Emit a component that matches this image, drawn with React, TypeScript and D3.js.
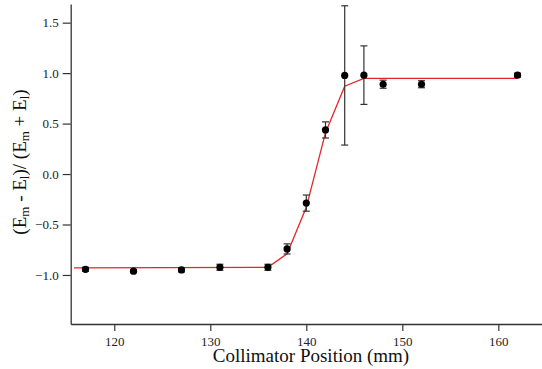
import React, { useEffect, useRef } from "react";
import * as d3 from "d3";

// collimator scan: measured asymmetry with error bars
const positions = [117, 122, 127, 131, 136, 138, 140, 142, 144, 146, 148, 152, 162];
const asymmetry = [-0.944, -0.963, -0.95, -0.924, -0.924, -0.742, -0.288, 0.437, 0.977, 0.98, 0.89, 0.89, 0.98];
const errors = [0.02, 0.015, 0.02, 0.03, 0.03, 0.05, 0.08, 0.08, 0.69, 0.29, 0.04, 0.035, 0.02];

// fitted step curve (red)
const fitX = [115.8, 136, 138, 140, 142, 144, 146, 162];
const fitY = [-0.93, -0.925, -0.79, -0.33, 0.41, 0.87, 0.948, 0.948];

const xTicks = [120, 130, 140, 150, 160];
const yTicks = [-1.0, -0.5, 0.0, 0.5, 1.0, 1.5];

const W = 542;
const H = 369;
const FONT = "Liberation Serif, Times New Roman, serif";

const App = () => {
  const svgRef = useRef(null);

  useEffect(() => {
    const svg = d3.select(svgRef.current);
    svg.selectAll("*").remove();

    const x = d3.scaleLinear().domain([115.46, 164.55]).range([70.7, 542]);
    const y = d3.scaleLinear().domain([-1.486, 1.685]).range([324, 4]);

    const axisColor = "#333";

    // fit line
    const line = d3
      .line()
      .x((d) => x(d[0]))
      .y((d) => y(d[1]));
    svg
      .append("path")
      .datum(fitX.map((v, i) => [v, fitY[i]]))
      .attr("d", line)
      .attr("fill", "none")
      .attr("stroke", "#e3262b")
      .attr("stroke-width", 1.3);

    // error bars
    const pts = positions.map((p, i) => ({ x: p, y: asymmetry[i], e: errors[i] }));
    const eb = svg.append("g").attr("stroke", "#333").attr("stroke-width", 1.2);
    pts.forEach((d) => {
      const cx = x(d.x);
      const y0 = y(d.y - d.e);
      const y1 = y(d.y + d.e);
      eb.append("line").attr("x1", cx).attr("x2", cx).attr("y1", y0).attr("y2", y1);
      eb.append("line").attr("x1", cx - 3.5).attr("x2", cx + 3.5).attr("y1", y0).attr("y2", y0);
      eb.append("line").attr("x1", cx - 3.5).attr("x2", cx + 3.5).attr("y1", y1).attr("y2", y1);
    });

    svg
      .append("g")
      .selectAll("circle")
      .data(pts)
      .enter()
      .append("circle")
      .attr("cx", (d) => x(d.x))
      .attr("cy", (d) => y(d.y))
      .attr("r", 3.6)
      .attr("fill", "#000");

    // x axis
    const xAxis = svg
      .append("g")
      .attr("transform", "translate(0,324)")
      .call(d3.axisBottom(x).tickValues(xTicks).tickSize(7).tickSizeOuter(0).tickPadding(6).tickFormat(d3.format("d")))
      .attr("font-family", FONT)
      .attr("font-size", 13);
    xAxis.select(".domain").attr("stroke", axisColor).attr("stroke-width", 1.3);
    xAxis.selectAll(".tick line").attr("stroke", axisColor).attr("stroke-width", 1.2);
    xAxis.selectAll(".tick text").attr("fill", "#222");

    // y axis
    const yAxis = svg
      .append("g")
      .attr("transform", "translate(70.7,0)")
      .call(d3.axisLeft(y).tickValues(yTicks).tickSize(8).tickSizeOuter(0).tickPadding(4).tickFormat(d3.format(".1f")))
      .attr("font-family", FONT)
      .attr("font-size", 13);
    yAxis.select(".domain").attr("stroke", axisColor).attr("stroke-width", 1.3);
    yAxis.selectAll(".tick line").attr("stroke", axisColor).attr("stroke-width", 1.2);
    yAxis.selectAll(".tick text").attr("fill", "#222");

    // axis titles
    svg
      .append("text")
      .attr("x", 311)
      .attr("y", 362)
      .attr("text-anchor", "middle")
      .attr("font-family", FONT)
      .attr("font-size", 19)
      .attr("fill", "#111")
      .text("Collimator Position (mm)");

    const yt = svg
      .append("text")
      .attr("transform", "translate(26,162) rotate(-90)")
      .attr("text-anchor", "middle")
      .attr("font-family", FONT)
      .attr("font-size", 19)
      .attr("fill", "#111");
    const parts = [
      ["(E", false],
      ["m", true],
      [" - E", false],
      ["l", true],
      [")/ (E", false],
      ["m", true],
      [" + E", false],
      ["l", true],
      [")", false],
    ];
    parts.forEach(([t, sub]) => {
      yt.append("tspan")
        .attr("baseline-shift", sub ? "-25%" : null)
        .attr("font-size", sub ? 13 : null)
        .text(t);
    });
  }, []);

  return (
    <svg
      ref={svgRef}
      width={W}
      height={H}
      style={{ position: "absolute", left: 0, top: 0, background: "#fff" }}
    ></svg>
  );
};

export default App;
